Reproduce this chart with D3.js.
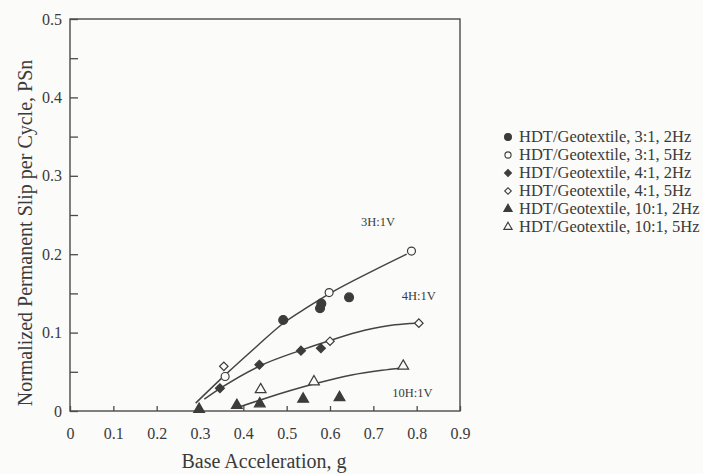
<!DOCTYPE html>
<html>
<head>
<meta charset="utf-8">
<script src="https://cdn.jsdelivr.net/npm/d3@7"></script>
<style>
  html, body { margin: 0; padding: 0; background: #fbfbf9; }
  svg { display: block; }
  text { font-family: "Liberation Serif", "DejaVu Serif", serif; fill: #3a3a3a; }
</style>
</head>
<body>
<svg id="chart" width="703" height="474"></svg>
<script>
// Measured slip per cycle (PSn) against base acceleration (g)
const hdt31_2Hz = [[0.492, 0.116], [0.577, 0.131], [0.58, 0.137], [0.644, 0.145]];
const hdt31_5Hz = [[0.358, 0.044], [0.598, 0.151], [0.788, 0.204]];
const hdt41_2Hz = [[0.346, 0.029], [0.437, 0.059], [0.533, 0.077], [0.579, 0.080]];
const hdt41_5Hz = [[0.355, 0.057], [0.600, 0.089], [0.805, 0.112]];
const hdt101_2Hz = [[0.298, 0.001], [0.385, 0.006], [0.438, 0.008], [0.538, 0.014], [0.622, 0.016]];
const hdt101_5Hz = [[0.440, 0.026], [0.563, 0.036], [0.769, 0.056]];

// Trend curves for each slope ratio
const fit3H = [[0.29, 0.010], [0.36, 0.047], [0.43, 0.082], [0.49, 0.111], [0.55, 0.133], [0.60, 0.150], [0.70, 0.179], [0.777, 0.200]];
const fit4H = [[0.31, 0.015], [0.35, 0.030], [0.44, 0.058], [0.53, 0.077], [0.60, 0.090], [0.68, 0.103], [0.75, 0.110], [0.80, 0.112]];
const fit10H = [[0.39, 0.005], [0.45, 0.016], [0.56, 0.034], [0.65, 0.046], [0.72, 0.052], [0.765, 0.055]];

const curveLabels = [
  { text: "3H:1V", at: [0.711, 0.236] },
  { text: "4H:1V", at: [0.805, 0.141] },
  { text: "10H:1V", at: [0.79, 0.018] }
];

const xTicks = [0, 0.1, 0.2, 0.3, 0.4, 0.5, 0.6, 0.7, 0.8, 0.9];
const yTicks = [0, 0.1, 0.2, 0.3, 0.4, 0.5];
const yMinorTicks = [0.05, 0.15, 0.25, 0.35, 0.45];

const seriesNames = [
  "HDT/Geotextile, 3:1, 2Hz",
  "HDT/Geotextile, 3:1, 5Hz",
  "HDT/Geotextile, 4:1, 2Hz",
  "HDT/Geotextile, 4:1, 5Hz",
  "HDT/Geotextile, 10:1, 2Hz",
  "HDT/Geotextile, 10:1, 5Hz"
];

const ink = "#3c3c3c";
const paper = "#fbfbf9";
// Diamonds are drawn as squares turned 45 degrees
const series = [
  { name: seriesNames[0], data: hdt31_2Hz, shape: d3.symbolCircle, size: 62, filled: true, rot: 0 },
  { name: seriesNames[1], data: hdt31_5Hz, shape: d3.symbolCircle, size: 50, filled: false, rot: 0 },
  { name: seriesNames[2], data: hdt41_2Hz, shape: d3.symbolSquare, size: 40, filled: true, rot: 45 },
  { name: seriesNames[3], data: hdt41_5Hz, shape: d3.symbolSquare, size: 36, filled: false, rot: 45 },
  { name: seriesNames[4], data: hdt101_2Hz, shape: d3.symbolTriangle, size: 50, filled: true, rot: 0 },
  { name: seriesNames[5], data: hdt101_5Hz, shape: d3.symbolTriangle, size: 50, filled: false, rot: 0 }
];

const svg = d3.select("#chart");
const x = d3.scaleLinear().domain([0, 0.9]).range([70, 460]);
const y = d3.scaleLinear().domain([0, 0.5]).range([411, 19]);

// Frame
svg.append("rect")
  .attr("x", x(0)).attr("y", y(0.5))
  .attr("width", x(0.9) - x(0)).attr("height", y(0) - y(0.5))
  .attr("fill", "none").attr("stroke", "#4a4a4a").attr("stroke-width", 1.4);

// Bottom axis: inward ticks
const xAxis = d3.axisBottom(x).tickValues(xTicks).tickSize(-5).tickPadding(17)
  .tickFormat(d => d === 0 ? "0" : d3.format(".1f")(d));
const gx = svg.append("g").attr("transform", `translate(0,${y(0)})`).call(xAxis);
gx.select(".domain").remove();
gx.selectAll("line").attr("stroke", "#4a4a4a").attr("stroke-width", 1.3);
gx.selectAll("text").style("font-size", "16px").attr("fill", "#444");

// Left axis: inward major and minor ticks
const yAxis = d3.axisLeft(y).tickValues(yTicks).tickSize(-8).tickPadding(8)
  .tickFormat(d => d === 0 ? "0" : d3.format(".1f")(d));
const gy = svg.append("g").attr("transform", `translate(${x(0)},0)`).call(yAxis);
gy.select(".domain").remove();
gy.selectAll("line").attr("stroke", "#4a4a4a").attr("stroke-width", 1.3);
gy.selectAll("text").style("font-size", "16px").attr("fill", "#444");

const gyMinor = svg.append("g").attr("transform", `translate(${x(0)},0)`)
  .call(d3.axisLeft(y).tickValues(yMinorTicks).tickSize(-8).tickFormat(""));
gyMinor.select(".domain").remove();
gyMinor.selectAll("line").attr("stroke", "#4a4a4a").attr("stroke-width", 1.3);

// Axis titles
svg.append("text")
  .attr("x", 264).attr("y", 468)
  .attr("text-anchor", "middle").style("font-size", "20px")
  .text("Base Acceleration, g");

svg.append("text")
  .attr("transform", "translate(32,233) rotate(-90)")
  .attr("text-anchor", "middle").style("font-size", "20px")
  .text("Normalized Permanent Slip per Cycle, PSn");

// Trend curves
const line = d3.line().x(d => x(d[0])).y(d => y(d[1])).curve(d3.curveMonotoneX);
[fit3H, fit4H, fit10H].forEach(f => {
  svg.append("path").attr("d", line(f))
    .attr("fill", "none").attr("stroke", "#444").attr("stroke-width", 1.5);
});

curveLabels.forEach(l => {
  svg.append("text")
    .attr("x", x(l.at[0])).attr("y", y(l.at[1]))
    .attr("text-anchor", "middle").style("font-size", "12.5px")
    .text(l.text);
});

// Data markers
series.forEach(s => {
  const sym = d3.symbol().type(s.shape).size(s.size);
  svg.append("g").selectAll("path").data(s.data).join("path")
    .attr("d", sym)
    .attr("transform", d => `translate(${x(d[0])},${y(d[1]) - (s.shape === d3.symbolTriangle ? 1 : 0)}) rotate(${s.rot})`)
    .attr("fill", s.filled ? ink : paper)
    .attr("stroke", ink).attr("stroke-width", 1.2);
});

// Legend
const legend = svg.append("g").attr("transform", "translate(508,137)");
series.forEach((s, i) => {
  const row = legend.append("g").attr("transform", `translate(0,${i * 18})`);
  row.append("path")
    .attr("d", d3.symbol().type(s.shape).size(s.size * 0.6)())
    .attr("transform", `rotate(${s.rot})`)
    .attr("fill", s.filled ? ink : paper)
    .attr("stroke", ink).attr("stroke-width", 1.1);
  row.append("text").attr("x", 11).attr("y", 5)
    .style("font-size", "16.5px").text(s.name);
});
</script>
</body>
</html>
